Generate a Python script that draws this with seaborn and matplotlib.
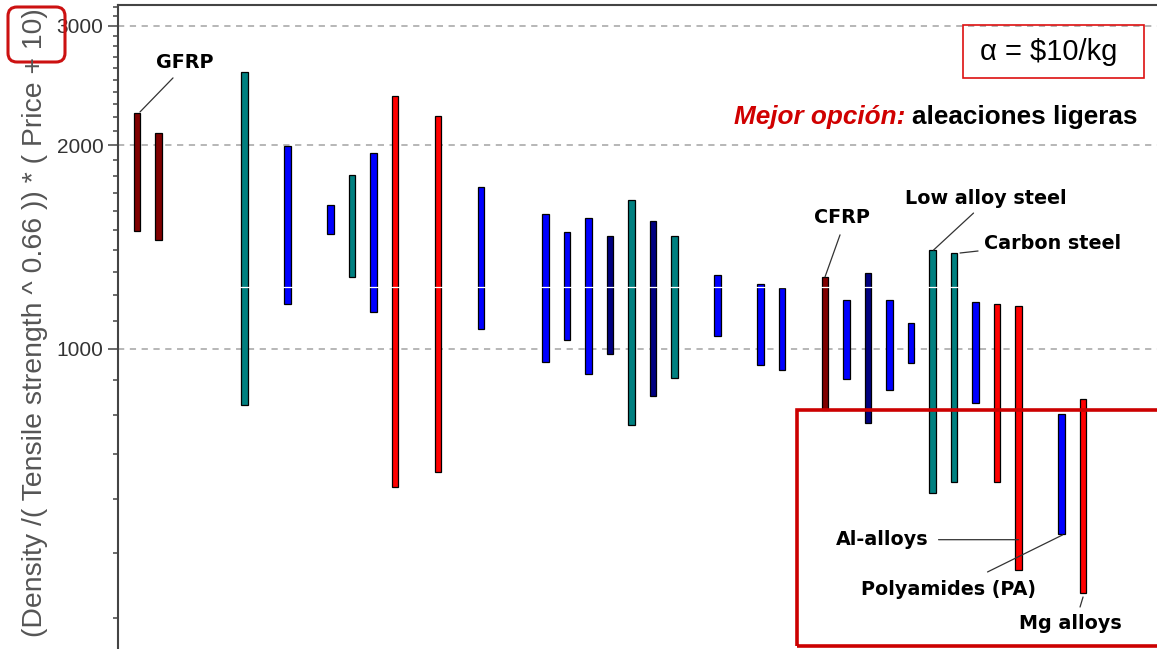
import pandas as pd
import matplotlib.pyplot as plt
import seaborn as sns
from matplotlib.patches import Rectangle, FancyBboxPatch
from matplotlib.transforms import offset_copy, IdentityTransform
from matplotlib.ticker import NullFormatter

# -----------------
# DATA
# -----------------

# slot position of each material bar along the (unlabelled) x axis
positions = [0, 1, 5, 7, 9, 10, 11, 12, 14, 16,
             19, 20, 21, 22, 23, 24, 25, 27, 29, 30,
             32, 33, 34, 35, 36, 37, 38, 39, 40, 41,
             43, 44]
# upper / lower end of each range bar
upper = [2232, 2085, 2566, 1995, 1632, 1807, 1948, 2364, 2209, 1735,
         1583, 1489, 1561, 1469, 1660, 1546, 1469, 1286, 1247, 1231,
         1278, 1181, 1295, 1181, 1092, 1400, 1386, 1173, 1165, 1158,
         802, 844]
lower = [1494, 1449, 827, 1165, 1479, 1278, 1134, 625, 658, 1070,
         957, 1031, 918, 983, 772, 852, 906, 1045, 947, 931,
         813, 903, 778, 870, 954, 613, 636, 832, 636, 472,
         533, 436]
groups = ['dred', 'dred', 'teal', 'blue', 'blue', 'teal', 'blue', 'red', 'red', 'blue',
          'blue', 'blue', 'blue', 'navy', 'teal', 'navy', 'teal', 'blue', 'blue', 'blue',
          'dred', 'blue', 'navy', 'blue', 'blue', 'teal', 'teal', 'blue', 'red', 'red',
          'blue', 'red']

palette = {'dred': '#800000', 'teal': '#008080', 'blue': '#0000ff',
           'navy': '#000080', 'red': '#ff0000'}

major_ticks = [1000, 2000, 3000]
minor_ticks = [400, 500, 600, 700, 800, 900, 1100, 1200, 1300, 1400, 1500, 1600,
               1700, 1800, 1900, 2100, 2200, 2300, 2400, 2500, 2600, 2700, 2800,
               2900, 3100, 3200]

# labelled materials: name, bar index, which end the leader starts from
label_names = ['GFRP', 'CFRP', 'Low alloy steel', 'Carbon steel',
               'Al-alloys', 'Polyamides (PA)', 'Mg alloys']
label_bars = [0, 20, 25, 26, 29, 30, 31]
label_ends = ['top', 'top', 'top', 'top', 'bottom', 'bottom', 'bottom']

df = pd.DataFrame({'pos': positions, 'upper': upper, 'lower': lower, 'group': groups})

# -----------------
# PLOT
# -----------------
sns.set_style("white")
plt.rcParams['font.family'] = ['Liberation Sans', 'DejaVu Sans']
plt.rcParams['lines.scale_dashes'] = False

W, H = 1157, 649
fig = plt.figure(figsize=(W / 100, H / 100), dpi=100)
ax = fig.add_axes([118 / W, 0, 1 - 118 / W, 1 - 5 / H])

for g, sub in df.groupby('group'):
    ax.bar(sub['pos'], sub['upper'] - sub['lower'], bottom=sub['lower'],
           width=0.32, color=palette[g], edgecolor='black', linewidth=0.9, zorder=3)

ax.set_yscale('log')
ax.set_ylim(360.4, 3222)
ax.set_xlim(-0.884, 47.44)
ax.set_xticks([])
ax.set_yticks(major_ticks)
ax.set_yticklabels([str(t) for t in major_ticks])
ax.set_yticks(minor_ticks, minor=True)
ax.yaxis.set_minor_formatter(NullFormatter())
ax.tick_params(axis='y', which='major', direction='out', length=7, width=1.1,
               color='#444444', labelsize=15, labelcolor='#333333', pad=3.5, left=True)
ax.tick_params(axis='y', which='minor', direction='out', length=3.6, width=1.1,
               color='#444444', left=True)
ax.yaxis.grid(True, which='major', color='#aaaaaa', linestyle=(0, (4.5, 4)), lw=1.2)
ax.yaxis.grid(False, which='minor')

for side in ['right', 'bottom']:
    ax.spines[side].set_visible(False)
for side in ['left', 'top']:
    ax.spines[side].set_color('#444444')
    ax.spines[side].set_linewidth(1.5)

# faint light line across the bars
ax.axhline(1235, xmin=0.074, color='white', lw=0.9, zorder=4)

# leader lines and labels (offsets in pixels)
line_start = [(3, 1), (0, 0), (1, 0), (6, 0), (0, 30), (1, -1), (0, -4)]
line_end = [(36, 35), (15, 42), (41, 37), (24, 2), (-80, 30), (-74, -38), (-3, -14)]
text_off = [(48, 50), (17, 59), (53, 52), (99, 10), (-136, 30), (-113, -56), (-13, -30)]

for name, bi, end, s, e, t in zip(label_names, label_bars, label_ends,
                                  line_start, line_end, text_off):
    bx = positions[bi]
    by = upper[bi] if end == 'top' else lower[bi]
    tr = offset_copy(ax.transData, fig=fig, x=s[0], y=s[1], units='dots')
    ax.annotate('', xy=(bx, by), xycoords=tr,
                xytext=(e[0] - s[0], e[1] - s[1]), textcoords='offset pixels',
                arrowprops=dict(arrowstyle='-', color='#333333', lw=0.9,
                                shrinkA=0, shrinkB=0), zorder=5)
    ax.annotate(name, xy=(bx, by), xytext=t, textcoords='offset pixels',
                ha='center', va='center', fontsize=13.8, fontweight='bold',
                family='DejaVu Sans', color='black', zorder=6)

# y label
fig.text(35 / W, 1 - 323 / H, '(Density /( Tensile strength ^ 0.66 )) * ( Price + 10)',
         rotation=90, ha='center', va='center', fontsize=20.4, color='#555555')

# red rounded box around "10)"
fig.add_artist(FancyBboxPatch((8, H - 62), 57, 55, boxstyle='round,pad=0,rounding_size=9',
                              transform=IdentityTransform(), fill=False,
                              edgecolor='#cc1111', lw=2.2))

# alpha box
fig.add_artist(Rectangle((963, H - 78), 181, 53, transform=IdentityTransform(),
                         fill=False, edgecolor='#dd1111', lw=1.2))
fig.text(1049 / W, 1 - 52 / H, r'α = $10/kg', ha='center', va='center',
         fontsize=21, color='black')

# best option text
t2 = fig.text(1137 / W, 1 - 117 / H, 'aleaciones ligeras', ha='right', va='center',
              fontsize=18.8, fontweight='bold', color='black')
ax.annotate('Mejor opción:', xy=(0, 0), xycoords=t2, xytext=(-6, 0),
            textcoords='offset pixels', ha='right', va='bottom', fontsize=18.8,
            fontweight='bold', style='italic', color='#d00000', annotation_clip=False)

# red box around the lower right group
fig.add_artist(Rectangle((797, H - 646), 420, 236, transform=IdentityTransform(),
                         fill=False, edgecolor='#cc0000', lw=2.6))

plt.savefig('out.png', dpi=100)
